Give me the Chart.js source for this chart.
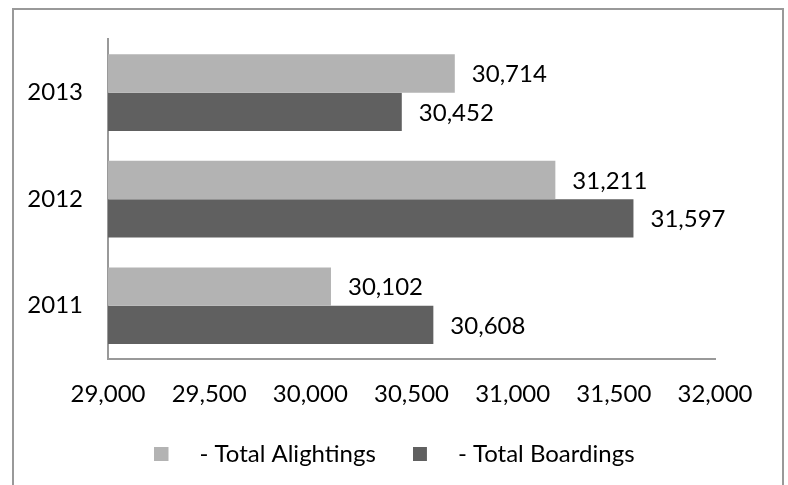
<!DOCTYPE html>
<html>
<head>
<meta charset="utf-8">
<script src="https://cdn.jsdelivr.net/npm/chart.js@4"></script>
<style>
  body { margin: 0; background: #fff; }
  .wrap { position: relative; width: 788px; height: 485px; }
  .frame {
    position: absolute; left: 12px; top: 8px; width: 768px; height: 490px;
    border: 2px solid #999; pointer-events: none;
  }
</style>
</head>
<body>
<div class="wrap">
  <canvas id="myChart" width="788" height="485"></canvas>
  <div class="frame"></div>
</div>
<script>
// data
const years = ['2013', '2012', '2011'];
const alightings = [30714, 31211, 30102];
const boardings = [30452, 31597, 30608];
const seriesNames = ['- Total Alightings', '- Total Boardings'];
const colors = ['#b3b3b3', '#606060'];
const xMin = 29000, xMax = 32000, xStep = 500;

const fontFamily = 'Lato, "Open Sans", sans-serif';
const fontSize = 24;
const textColor = '#000';

function fmt(v) {
    return v.toLocaleString('en-US');
}

// legend icons: square with blank space after it
function makeIcon(color) {
    const c = document.createElement('canvas');
    c.width = 33;
    c.height = 14;
    const g = c.getContext('2d');
    g.fillStyle = color;
    g.fillRect(0, 0, 14, 14);
    return c;
}
const icons = colors.map(makeIcon);

// value labels next to bars
const valueLabels = {
    id: 'valueLabels',
    afterDatasetsDraw(chart) {
        const ctx = chart.ctx;
        ctx.save();
        ctx.font = fontSize + 'px ' + fontFamily;
        ctx.fillStyle = textColor;
        ctx.textAlign = 'left';
        ctx.textBaseline = 'middle';
        chart.data.datasets.forEach((ds, i) => {
            chart.getDatasetMeta(i).data.forEach((bar, j) => {
                ctx.fillText(fmt(ds.data[j]), bar.x + 17, bar.y + 1);
            });
        });
        ctx.restore();
    }
};

// legend sits a bit right of chart.js centering
const legendShift = {
    id: 'legendShift',
    afterLayout(chart) {
        chart.legend.left += 37;
        chart.legend.right += 37;
    }
};

const ctx = document.getElementById('myChart').getContext('2d');

new Chart(ctx, {
    type: 'bar',
    data: {
        labels: years,
        datasets: [{
            label: seriesNames[0],
            data: alightings,
            backgroundColor: colors[0],
            borderWidth: 0
        }, {
            label: seriesNames[1],
            data: boardings,
            backgroundColor: colors[1],
            borderWidth: 0
        }]
    },
    options: {
        indexAxis: 'y',
        responsive: false,
        animation: false,
        categoryPercentage: 0.72,
        barPercentage: 1.0,
        layout: {
            padding: { left: 0, right: 73, top: 37, bottom: 9 }
        },
        scales: {
            x: {
                min: xMin,
                max: xMax,
                ticks: {
                    stepSize: xStep,
                    color: textColor,
                    font: { family: fontFamily, size: fontSize },
                    padding: 21,
                    maxRotation: 0,
                    callback: (v) => fmt(v)
                },
                grid: { display: false, drawTicks: false },
                border: { display: true, color: '#999', width: 2 },
                afterFit(scale) { scale.height = 46; }
            },
            y: {
                ticks: {
                    color: textColor,
                    font: { family: fontFamily, size: fontSize },
                    padding: 25
                },
                grid: { display: false, drawTicks: false },
                border: { display: true, color: '#999', width: 2 },
                afterFit(scale) { scale.width = 108; }
            }
        },
        plugins: {
            legend: {
                position: 'bottom',
                labels: {
                    color: textColor,
                    font: { family: fontFamily, size: fontSize },
                    usePointStyle: true,
                    pointStyleWidth: 33,
                    padding: 37,
                    generateLabels(chart) {
                        const items = Chart.defaults.plugins.legend.labels.generateLabels(chart);
                        items.forEach((it, i) => { it.pointStyle = icons[i]; });
                        return items;
                    }
                }
            },
            tooltip: { enabled: false }
        }
    },
    plugins: [valueLabels, legendShift]
});
</script>
</body>
</html>
